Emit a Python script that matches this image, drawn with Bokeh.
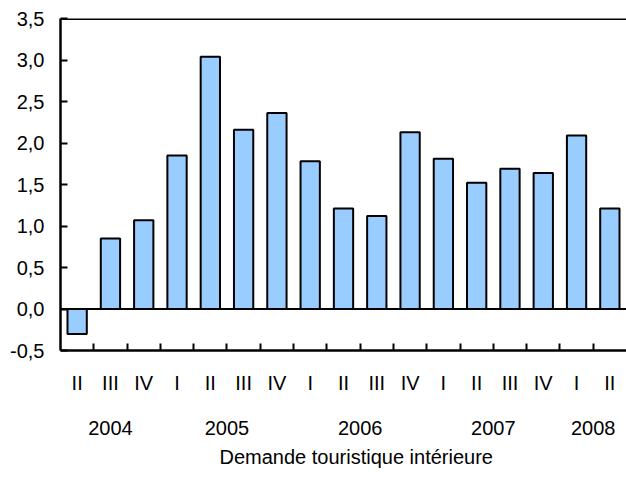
from bokeh.plotting import figure
from bokeh.models import (Range1d, LinearAxis, FixedTicker, CustomJSTickFormatter,
                          Span, Title, ColumnDataSource)
from bokeh.embed import file_html
from bokeh.resources import INLINE

quarters = ["II", "III", "IV", "I", "II", "III", "IV", "I", "II", "III", "IV",
            "I", "II", "III", "IV", "I", "II"]
values = [-0.3, 0.85, 1.07, 1.85, 3.04, 2.16, 2.36, 1.78, 1.21, 1.12, 2.13,
          1.81, 1.52, 1.69, 1.64, 2.09, 1.21]
years = ["2004", "2005", "2006", "2007", "2008"]
quarters_per_year = [3, 4, 4, 4, 2]
y_ticks = [-0.5, 0.0, 0.5, 1.0, 1.5, 2.0, 2.5, 3.0, 3.5]
series_name = "Demande touristique intérieure"

FONT = "Liberation Sans"
FS = "20px"

n = len(values)
xs = [i + 0.5 for i in range(n)]
bounds = [float(i) for i in range(1, n)]
year_centers = []
start = 0
for c in quarters_per_year:
    year_centers.append(start + c / 2.0)
    start += c

src = ColumnDataSource(dict(x=xs, top=values))

p = figure(frame_width=566, frame_height=332, x_range=Range1d(0, n), y_range=Range1d(-0.5, 3.5),
           output_backend="svg", toolbar_location=None,
           x_axis_location=None, y_axis_location=None,
           min_border_left=60, min_border_right=0, min_border_top=18, min_border_bottom=0)
p.xgrid.grid_line_color = None
p.ygrid.grid_line_color = None
p.outline_line_color = None
p.background_fill_color = "white"
p.border_fill_color = "white"

r = p.vbar(x="x", top="top", bottom=0, width=0.58, source=src,
           fill_color="#99CCFF", line_color="black", line_width=2)

yaxis = LinearAxis(ticker=FixedTicker(ticks=y_ticks),
                   formatter=CustomJSTickFormatter(code="return tick.toFixed(1).replace('.', ',');"),
                   major_tick_in=7, major_tick_out=0, major_tick_line_width=2,
                   minor_tick_line_color=None, axis_line_width=2.5,
                   major_label_standoff=16, major_label_text_font=FONT,
                   major_label_text_font_size=FS, major_label_text_color="black")
p.add_layout(yaxis, "left")

qaxis = LinearAxis(ticker=FixedTicker(ticks=xs, minor_ticks=bounds),
                   formatter=CustomJSTickFormatter(args=dict(labels=quarters),
                                                   code="return labels[Math.floor(tick)];"),
                   major_tick_in=0, major_tick_out=0, major_tick_line_color=None,
                   minor_tick_in=7, minor_tick_out=0, minor_tick_line_width=2,
                   minor_tick_line_color="black",
                   axis_line_width=2.5, major_label_standoff=21,
                   major_label_text_font=FONT, major_label_text_font_size=FS,
                   major_label_text_color="black")
p.add_layout(qaxis, "below")

yraxis = LinearAxis(ticker=FixedTicker(ticks=year_centers),
                    formatter=CustomJSTickFormatter(args=dict(centers=year_centers, names=years),
                                                    code="const i = centers.indexOf(tick); return i >= 0 ? names[i] : '';"),
                    axis_line_color=None, major_tick_line_color=None, minor_tick_line_color=None,
                    major_label_standoff=18, major_label_text_font=FONT,
                    major_label_text_font_size=FS, major_label_text_color="black")
p.add_layout(yraxis, "below")

p.add_layout(Span(location=0, dimension="width", line_color="black", line_width=2))
p.add_layout(Span(location=3.5, dimension="width", line_color="black", line_width=3))

legend_title = Title(text=series_name, align="left", offset=159, standoff=12,
                     text_font=FONT, text_font_size=FS, text_font_style="normal",
                     text_color="black")
p.add_layout(legend_title, "below")

open("out.html", "w").write(file_html(p, INLINE))
